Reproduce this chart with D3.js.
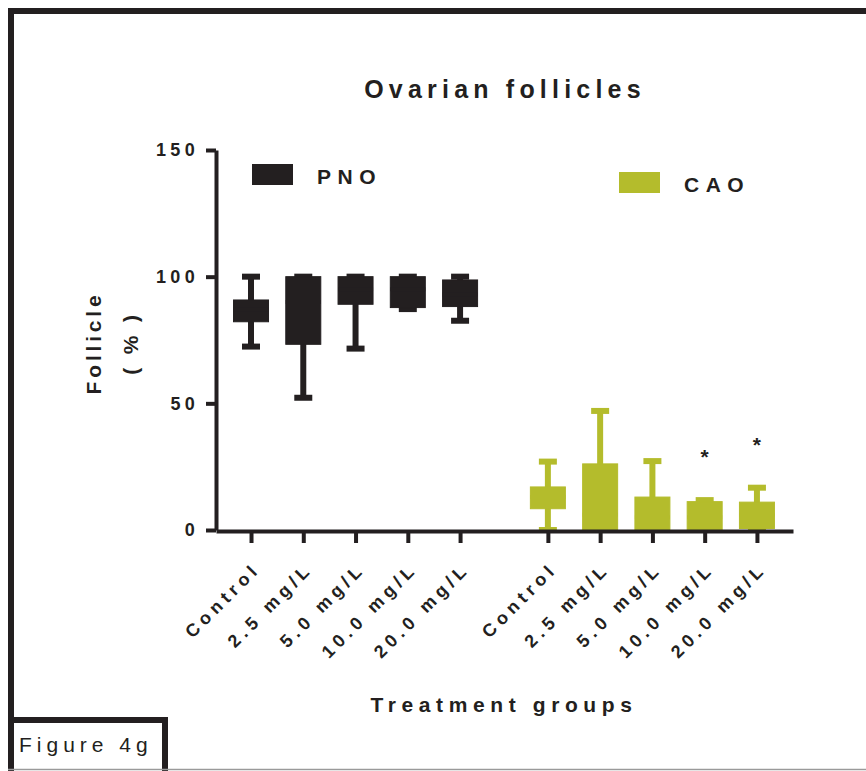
<!DOCTYPE html>
<html>
<head>
<meta charset="utf-8">
<script src="https://cdnjs.cloudflare.com/ajax/libs/d3/7.8.5/d3.min.js"></script>
<style>
  body { margin: 0; background: #fff; }
  svg { display: block; font-family: "Liberation Sans", Arial, Helvetica, sans-serif; }
</style>
</head>
<body>
<svg id="chart" width="866" height="771"></svg>
<script>
// categories and series
const categories = ['Control', '2.5 mg/L', '5.0 mg/L', '10.0 mg/L', '20.0 mg/L'];
const seriesNames = ['PNO', 'CAO'];
const seriesColors = ['#231f20', '#b4bc2c'];

// box plot values (% follicle)
const pnoMin = [72.4, 52.2, 71.6, 87.2, 82.6];
const pnoQ1 = [82.2, 73.3, 89.1, 87.8, 88.2];
const pnoMedian = [87, 90, 95, 95, 93];
const pnoQ3 = [90.8, 100, 100, 100, 98.7];
const pnoMax = [100, 100, 100, 100, 100];

const caoMin = [0, 0, 0, 0, 0];
const caoQ1 = [8.4, 0, 0, 0, 0.6];
const caoMedian = [13, 6, 5, 5, 6];
const caoQ3 = [17.0, 26.1, 13.0, 11.2, 11.0];
const caoMax = [27.0, 47.0, 27.2, 11.8, 16.7];
const caoSig = ['', '', '', '*', '*'];

const yTicks = [0, 50, 100, 150];

const chartTitle = 'Ovarian follicles';
const xTitle = 'Treatment groups';
const yTitle = ['Follicle', '( % )'];
const figLabel = 'Figure 4g';

let svg = d3.select('#chart');
let ink = '#231f20';
let groupGap = 0.68;

// position index for each box; second group is shifted by a gap
let boxes = [];
seriesNames.forEach((s, g) => {
	let mins = g === 0 ? pnoMin : caoMin;
	let q1s = g === 0 ? pnoQ1 : caoQ1;
	let meds = g === 0 ? pnoMedian : caoMedian;
	let q3s = g === 0 ? pnoQ3 : caoQ3;
	let maxs = g === 0 ? pnoMax : caoMax;
	categories.forEach((c, i) => {
		boxes.push({
			series: s, color: seriesColors[g], cat: c,
			pos: i + g * (categories.length + groupGap),
			min: mins[i], q1: q1s[i], median: meds[i], q3: q3s[i], max: maxs[i],
			sig: g === 1 ? caoSig[i] : ''
		});
	});
});

let xScale = d3.scaleLinear()
	.domain([-0.67, d3.max(boxes, d => d.pos) + 0.69])
	.range([216, 793]);
let yScale = d3.scaleLinear()
	.domain([0, 150])
	.range([530, 150]);

let boxW = 35, capW = 18;

// frame around the panel
svg.append('path')
	.attr('d', 'M11,771 V11 H866')
	.attr('fill', 'none').attr('stroke', ink).attr('stroke-width', 6);
svg.append('path')
	.attr('d', 'M8,720 H165 V771')
	.attr('fill', 'none').attr('stroke', ink).attr('stroke-width', 6);
svg.append('line')
	.attr('x1', 8).attr('x2', 866).attr('y1', 769.5).attr('y2', 769.5)
	.attr('stroke', '#9a9a9a').attr('stroke-width', 1.5);
svg.append('text')
	.attr('x', 19).attr('y', 752)
	.attr('font-size', 21).attr('letter-spacing', 5)
	.attr('fill', ink)
	.text(figLabel);

// title
svg.append('text')
	.attr('x', 505).attr('y', 98)
	.attr('text-anchor', 'middle')
	.attr('font-size', 25).attr('font-weight', 'bold').attr('letter-spacing', 5.2)
	.attr('fill', ink)
	.text(chartTitle);

// boxes
let bx = svg.append('g').selectAll('g')
	.data(boxes)
	.enter()
	.append('g')
	.attr('transform', d => `translate(${xScale(d.pos)},0)`);

bx.append('line')
	.attr('x1', 0).attr('x2', 0)
	.attr('y1', d => yScale(d.max))
	.attr('y2', d => yScale(d.min))
	.attr('stroke', d => d.color).attr('stroke-width', 6);
bx.selectAll('.cap')
	.data(d => [d.min, d.max].map(v => ({v: v, color: d.color})))
	.enter()
	.append('line')
	.attr('class', 'cap')
	.attr('x1', -capW / 2).attr('x2', capW / 2)
	.attr('y1', d => yScale(d.v)).attr('y2', d => yScale(d.v))
	.attr('stroke', d => d.color).attr('stroke-width', 6);
bx.append('rect')
	.attr('x', -boxW / 2)
	.attr('y', d => yScale(d.q3))
	.attr('width', boxW)
	.attr('height', d => yScale(d.q1) - yScale(d.q3))
	.attr('fill', d => d.color)
	.attr('stroke', d => d.color).attr('stroke-width', 1);
// median drawn in the box colour, as in the original (not visible)
bx.append('line')
	.attr('x1', -boxW / 2).attr('x2', boxW / 2)
	.attr('y1', d => yScale(d.median)).attr('y2', d => yScale(d.median))
	.attr('stroke', d => d.color).attr('stroke-width', 4);
bx.filter(d => d.sig)
	.append('text')
	.attr('x', 0)
	.attr('y', d => yScale(d.max) - 36)
	.attr('text-anchor', 'middle')
	.attr('font-size', 21).attr('font-weight', 'bold')
	.attr('fill', ink)
	.text(d => d.sig);

// y axis
let yAxis = d3.axisLeft(yScale)
	.tickValues(yTicks)
	.tickSize(10)
	.tickSizeOuter(0)
	.tickPadding(7);
let yG = svg.append('g')
	.attr('transform', 'translate(216,0)')
	.call(yAxis);
yG.select('.domain').attr('stroke', ink).attr('stroke-width', 4);
yG.selectAll('.tick line').attr('stroke', ink).attr('stroke-width', 4);
yG.selectAll('.tick text')
	.attr('fill', ink)
	.attr('font-size', 18).attr('font-weight', 'bold').attr('letter-spacing', 4.3)
	.attr('font-family', null);

// x axis
let xAxis = d3.axisBottom(xScale)
	.tickValues(boxes.map(d => d.pos))
	.tickFormat((p, i) => boxes[i].cat)
	.tickSize(12)
	.tickSizeOuter(0);
let xG = svg.append('g')
	.attr('transform', 'translate(0,531)')
	.call(xAxis);
xG.select('.domain').attr('stroke', ink).attr('stroke-width', 4);
xG.selectAll('.tick line').attr('stroke', ink).attr('stroke-width', 4);
xG.selectAll('.tick text')
	.attr('fill', ink)
	.attr('font-size', 18).attr('font-weight', 'bold').attr('letter-spacing', 4.8)
	.attr('font-family', null)
	.attr('text-anchor', 'end')
	.attr('dy', null)
	.attr('y', null)
	.attr('transform', 'translate(10,39) rotate(-45)');

// axis titles
svg.append('text')
	.attr('x', 504).attr('y', 712)
	.attr('text-anchor', 'middle')
	.attr('font-size', 21).attr('font-weight', 'bold').attr('letter-spacing', 5.6)
	.attr('fill', ink)
	.text(xTitle);
svg.append('g')
	.attr('transform', 'translate(0,343) rotate(-90)')
	.selectAll('text')
	.data(yTitle)
	.enter()
	.append('text')
	.attr('x', 0)
	.attr('y', (d, i) => 101 + i * 37)
	.attr('text-anchor', 'middle')
	.attr('font-size', 21).attr('font-weight', 'bold').attr('letter-spacing', 3.8)
	.attr('fill', ink)
	.text(d => d);

// legend
let legend = svg.append('g').selectAll('g')
	.data(seriesNames)
	.enter()
	.append('g')
	.attr('transform', (d, i) => i === 0 ? 'translate(252,164)' : 'translate(619,172)');
legend.append('rect')
	.attr('width', 41).attr('height', 21)
	.attr('fill', (d, i) => seriesColors[i]);
legend.append('text')
	.attr('x', 65).attr('y', 20)
	.attr('font-size', 21).attr('font-weight', 'bold').attr('letter-spacing', 6.5)
	.attr('fill', ink)
	.text(d => d);
</script>
</body>
</html>
